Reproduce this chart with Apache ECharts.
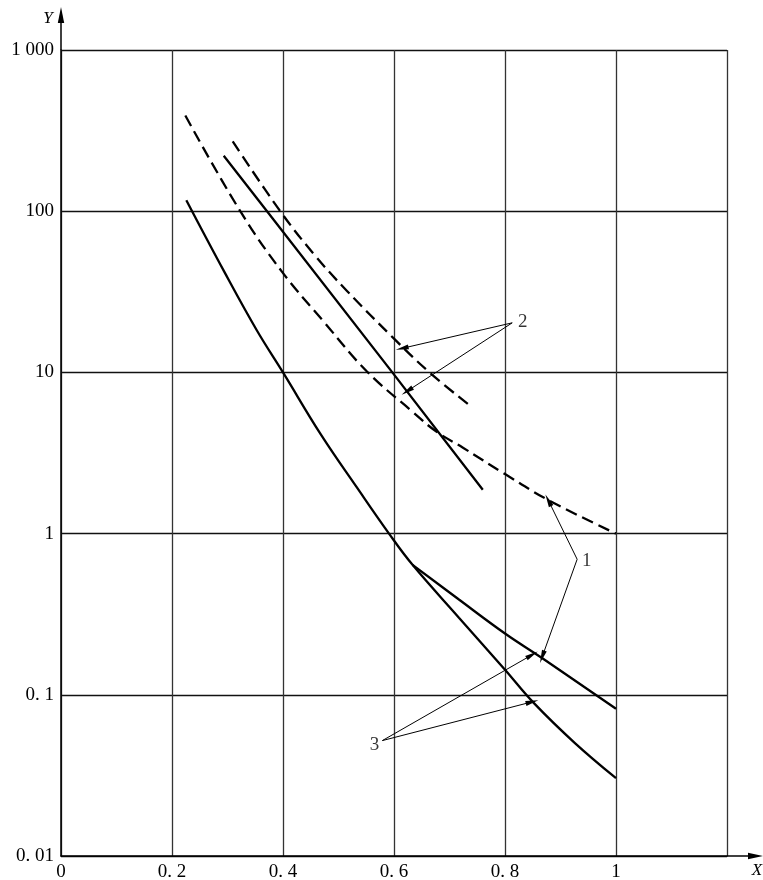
<!DOCTYPE html>
<html><head><meta charset="utf-8">
<script src="https://cdn.jsdelivr.net/npm/echarts@6/dist/echarts.min.js"></script>
<style>html,body{margin:0;padding:0;background:#fff}#c{width:763px;height:880px}</style>
</head><body><div id="c"></div>
<script>
// ---- tick labels ----
const xTicks = [0, 0.2, 0.4, 0.6, 0.8, 1, 1.2];
const xTickLabels = ['0', '0. 2', '0. 4', '0. 6', '0. 8', '1', ''];
const yTicks = [0.01, 0.1, 1, 10, 100, 1000];
const yTickLabels = ['0. 01', '0. 1', '1', '10', '100', '1 000'];
const axisNames = ['X', 'Y'];

// ---- curves (x, Y) ----
const solidMain = [[0.2258,117],[0.2941,42.2],[0.353,18.2],[0.4,10],[0.4684,4.11],[0.5328,1.94],[0.591,1.0],[0.6334,0.64],[0.717,0.301],[0.8,0.143],[0.8517,0.0891],[0.9265,0.050],[1.0,0.0304]];
const solidBranch = [[0.6334,0.64],[0.717,0.39],[0.8,0.24],[0.8667,0.169],[1.0,0.082]];
const solidStraight = [[0.2932,221],[0.3712,100],[0.597,10],[0.760,1.87]];
const dashedLong = [[0.224,392],[0.323,100],[0.398,42.2],[0.4742,20.5],[0.5504,10.2],[0.6334,5.7],[0.6757,4.31],[0.7243,3.41],[0.8,2.34],[0.8786,1.61],[1.0,1.0]];
const dashedShort = [[0.3094,271],[0.395,100],[0.4567,53.6],[0.5153,32],[0.6,16.2],[0.6639,10],[0.740,6.1]];

// ---- callouts ----
const calloutLabels = ['1', '2', '3'];
const calloutAnchors = [[0.9475,0.673],[0.832,20.5],[0.565,0.0485]];
const calloutArrows = [
  [[0.930,0.693],[0.878,1.61]],   [[0.930,0.693],[0.867,0.172]],
  [[0.813,20.3],[0.6146,14.1]],   [[0.813,20.3],[0.6237,7.65]],
  [[0.579,0.052],[0.8488,0.177]], [[0.579,0.052],[0.8488,0.0904]]
];

const FONT = 'Liberation Serif';
const chart = echarts.init(document.getElementById('c'), null, {renderer: 'canvas'});

function fmtX(v){ const i = xTicks.findIndex(t => Math.abs(t - v) < 1e-6); return i >= 0 ? xTickLabels[i] : ''; }
function fmtY(v){ const i = yTicks.findIndex(t => Math.abs(Math.log10(t) - Math.log10(v)) < 1e-6); return i >= 0 ? yTickLabels[i] : ''; }

const curveStyle = (dashed) => ({color: '#000', width: 2.3, type: dashed ? [12, 6] : 'solid'});
const curve = (data, dashed, smooth) => ({
  type: 'line', data: data, showSymbol: false, smooth: smooth,
  lineStyle: curveStyle(dashed), silent: true
});

const option = {
  animation: false,
  backgroundColor: '#fff',
  grid: {left: 61, top: 50, right: 36, bottom: 24, containLabel: false, outerBoundsMode: 'none'},
  xAxis: {
    type: 'value', min: 0, max: 1.2, interval: 0.2,
    axisLine: {show: true, onZero: false, lineStyle: {color: '#000', width: 1.5}},
    axisTick: {show: false},
    axisLabel: {formatter: fmtX, color: '#000', fontFamily: FONT, fontSize: 19, margin: 7},
    splitLine: {show: true, lineStyle: {color: '#333', width: 1.3}}
  },
  yAxis: {
    type: 'log', logBase: 10, min: 0.01, max: 1000,
    axisLine: {show: true, lineStyle: {color: '#000', width: 1.5}},
    axisTick: {show: false},
    minorTick: {show: false},
    axisLabel: {formatter: fmtY, color: '#000', fontFamily: FONT, fontSize: 19, margin: 7},
    splitLine: {show: true, lineStyle: {color: '#111', width: 1.3}}
  },
  series: [
    curve(solidMain, false, 0.4),
    curve(solidBranch, false, 0.4),
    curve(solidStraight, false, false),
    curve(dashedLong, true, 0.4),
    curve(dashedShort, true, 0.4),
    {
      type: 'scatter', symbolSize: 0, silent: true,
      data: calloutAnchors.map((p, i) => ({name: calloutLabels[i], value: p})),
      label: {show: true, position: 'inside', formatter: '{b}', color: '#000', fontFamily: FONT, fontSize: 19},
      markLine: {
        silent: true, animation: false,
        symbol: ['none', 'triangle'], symbolSize: [5, 13],
        label: {show: false},
        lineStyle: {color: '#000', width: 1, type: 'solid'},
        data: calloutArrows.map(a => [{coord: a[0]}, {coord: a[1]}])
      }
    }
  ]
};
chart.setOption(option);

// axis extensions with arrowheads and axis names
const pTop = chart.convertToPixel({gridIndex: 0}, [0, 1000]);
const pRight = chart.convertToPixel({gridIndex: 0}, [1.2, 0.01]);
chart.setOption({
  graphic: [
    {type: 'line', shape: {x1: pTop[0], y1: pTop[1], x2: pTop[0], y2: pTop[1] - 30}, style: {stroke: '#000', lineWidth: 1.5}},
    {type: 'polygon', shape: {points: [[pTop[0], pTop[1] - 43], [pTop[0] - 3.2, pTop[1] - 27], [pTop[0] + 3.2, pTop[1] - 27]]}, style: {fill: '#000'}},
    {type: 'line', shape: {x1: pRight[0], y1: pRight[1], x2: pRight[0] + 24, y2: pRight[1]}, style: {stroke: '#000', lineWidth: 1.5}},
    {type: 'polygon', shape: {points: [[pRight[0] + 36, pRight[1]], [pRight[0] + 21, pRight[1] - 3.2], [pRight[0] + 21, pRight[1] + 3.2]]}, style: {fill: '#000'}},
    {type: 'text', x: pTop[0] - 13, y: pTop[1] - 31, style: {text: axisNames[1], fill: '#000', font: 'italic 17px "Liberation Serif"', textAlign: 'center', textVerticalAlign: 'middle'}},
    {type: 'text', x: pRight[0] + 30, y: pRight[1] + 15, style: {text: axisNames[0], fill: '#000', font: 'italic 17px "Liberation Serif"', textAlign: 'center', textVerticalAlign: 'middle'}}
  ]
});
</script>
</body></html>
